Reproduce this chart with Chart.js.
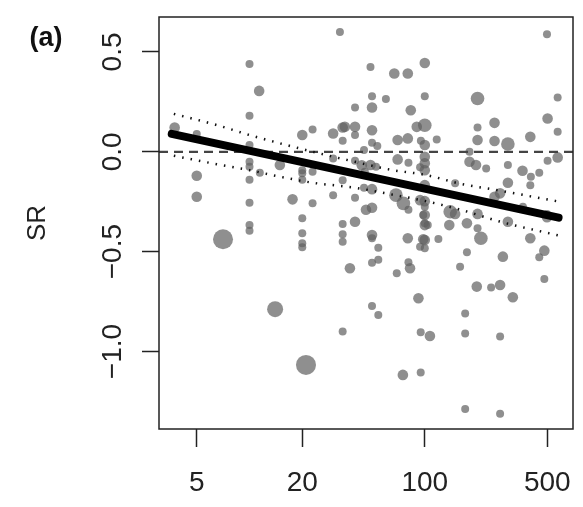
<!DOCTYPE html>
<html>
<head>
<meta charset="utf-8">
<script src="https://cdn.jsdelivr.net/npm/chart.js@4.4.1/dist/chart.umd.min.js"></script>
<style>
  html,body{margin:0;padding:0;background:#fff;overflow:hidden;}
  canvas{display:block;}
</style>
</head>
<body>
<canvas id="sr-chart" width="583" height="507"></canvas>
<script>
// values
var panelLabel = '(a)';
var yTitle = 'SR';
var xTicks = [5, 20, 100, 500];
var yTicks = [-1.0, -0.5, 0.0, 0.5];
var xRange = [3.045, 701];
var yRange = [-1.388, 0.675];

// sites: x (log scale), SR, and relative weight (1..5, shown as dot size)
var siteX = [3.74,5,5,5,7.06,10,10,10,10,10,10,10,10,10,11.35,11.45,14,14.9,17.6,20,
  20,20,20,20,20,20,20,21,22.9,22.9,22.9,30,30,30,32.8,34,34,34,34,34,
  34,34,35,37.4,40,40,40,40,40,40,43.7,45,45,46.2,49,50,50,50,50,49,
  50,50,50,50,50,50,53.6,52.7,54.3,54.3,54.3,60,67,70,70,68.5,69.2,75.5,75,80,
  80,80.7,80.7,80,80.7,83.2,82.4,90,95,94,94,94,92,94.8,94.8,100,100,100,100,100,
  100,100,100,100,100,100,100,100,100,100,98,98,104,107,117,119.6,139.6,138,149,149,
  159,174,174,170,170,170,180,180,196,200,200,200,200,200,198,209,224,239,250,250,
  250,269,269,269,269,279,298,298,298,298,318,361,363,400,403,400,400,450,450,481,
  481,498,502,502,498,498,573,573,573,45.5];
var siteSR = [0.122,0.089,-0.12,-0.225,-0.438,0.44,0.18,0.034,-0.05,-0.075,-0.14,-0.255,-0.367,-0.395,0.305,-0.105,-0.788,-0.066,-0.238,0.084,
  -0.092,-0.108,-0.14,-0.333,-0.408,-0.458,-0.478,-1.067,0.112,-0.1,-0.258,0.092,-0.033,-0.217,0.60,0.122,0.055,-0.142,-0.362,-0.413,
  -0.45,-0.90,0.125,-0.583,0.222,0.125,0.084,-0.045,-0.23,-0.35,-0.067,0.009,-0.18,-0.29,0.425,0.278,0.222,0.108,0.045,-0.066,
  -0.187,-0.28,-0.417,-0.433,-0.555,-0.772,0.029,-0.075,-0.48,-0.54,-0.817,0.264,0.392,0.059,-0.038,-0.217,-0.608,-0.258,-1.117,0.392,
  0.067,-0.055,-0.29,-0.433,-0.553,0.208,-0.583,0.125,0.055,-0.077,-0.242,-0.475,-0.733,-0.903,-1.105,0.445,0.278,0.133,0.034,-0.025,
  -0.057,-0.092,-0.167,-0.247,-0.275,-0.317,-0.358,-0.367,-0.442,-0.483,-0.317,-0.438,-0.367,-0.922,0.062,-0.437,-0.30,-0.367,-0.158,-0.311,
  -0.575,-0.358,-0.503,-0.81,-0.91,-1.288,0.0,-0.05,-0.066,0.267,0.122,0.059,-0.311,-0.383,-0.675,-0.433,-0.083,-0.68,0.145,0.054,
  -0.225,-0.208,-0.667,-0.925,-1.312,-0.525,0.039,-0.066,-0.155,-0.35,-0.728,-0.095,-0.275,0.075,-0.125,-0.167,-0.433,-0.105,-0.528,-0.495,
  -0.637,0.589,0.167,-0.045,-0.311,-0.328,0.272,0.10,-0.028,-0.10];
var siteW = [2,1,2,2,5,1,1,1,1,1,1,1,1,1,2,1,4,2,2,2,
  1,1,1,1,1,1,1,5,1,1,1,2,1,1,1,2,1,1,1,1,
  1,1,2,2,1,2,1,1,1,2,2,1,1,2,1,1,2,2,1,2,
  2,2,2,1,1,1,1,1,1,1,1,1,2,2,2,3,1,3,2,2,
  2,1,1,2,1,2,2,2,1,1,2,1,2,1,1,2,1,3,2,2,
  2,2,2,2,1,2,1,2,2,1,1,2,1,2,1,1,3,2,1,2,
  1,2,1,1,1,1,1,2,2,3,1,2,2,1,2,3,1,1,2,2,
  2,2,2,1,1,2,3,1,2,2,2,2,1,2,1,1,2,1,1,2,
  1,1,2,1,1,2,1,1,2,1];

// fitted line and its confidence band
var fitX = [3.6, 580];
var fitY = [0.09, -0.33];
var ciX = [3.7, 6.5, 10, 15, 23, 40, 66, 100, 160, 270, 587];
var ciUpper = [0.19, 0.134, 0.084, 0.042, 0.0, -0.05, -0.092, -0.115, -0.16, -0.195, -0.25];
var ciLower = [-0.02, -0.062, -0.092, -0.125, -0.155, -0.18, -0.215, -0.246, -0.29, -0.35, -0.42];

var dotRadius = [0, 4, 5.3, 6.8, 8, 10];
var ink = '#222';

Chart.defaults.font.family = '"Liberation Sans", Arial, sans-serif';
Chart.defaults.color = ink;

function pairs(xs, ys)
{
    var out = [];
    for (var i = 0; i < xs.length; i++) out.push({x: xs[i], y: ys[i]});
    return out;
}

function lineSet(data, width, dash, color, order)
{
    return {
        type: 'line',
        data: data,
        showLine: true,
        borderColor: color,
        borderWidth: width,
        borderDash: dash,
        borderCapStyle: dash.length ? 'butt' : 'round',
        pointRadius: 0,
        fill: false,
        cubicInterpolationMode: 'monotone',
        order: order
    };
}

// no extra room for overhanging labels, the frame is placed by layout padding
function noPadding(s)
{
    s.paddingLeft = 0; s.paddingRight = 0; s.paddingTop = 0; s.paddingBottom = 0;
}

var frame = {
    id: 'frame',
    afterDraw: function(chart)
    {
        var ctx = chart.ctx, a = chart.chartArea;
        ctx.save();
        ctx.strokeStyle = ink;
        ctx.lineWidth = 1.5;
        ctx.strokeRect(a.left, a.top, a.right - a.left, a.bottom - a.top);
        ctx.font = 'bold 27px "Liberation Sans", Arial, sans-serif';
        ctx.fillStyle = '#111';
        ctx.textAlign = 'center';
        ctx.textBaseline = 'middle';
        ctx.fillText(panelLabel, 46, 39);
        ctx.restore();
    }
};

var zeroLine = [{x: xRange[0], y: 0}, {x: xRange[1], y: 0}];

var chart = new Chart(document.getElementById('sr-chart').getContext('2d'), {
    type: 'scatter',
    data: {
        datasets: [
            lineSet(pairs(fitX, fitY), 8, [], '#000', 0),
            lineSet(pairs(ciX, ciUpper), 2.5, [1.5, 7], '#111', 1),
            lineSet(pairs(ciX, ciLower), 2.5, [1.5, 7], '#111', 1),
            lineSet(zeroLine, 2.2, [9, 6], '#444', 2),
            {
                data: pairs(siteX, siteSR),
                backgroundColor: 'rgba(95,95,95,0.7)',
                borderWidth: 0,
                pointRadius: function(c) { return dotRadius[siteW[c.dataIndex]]; },
                pointHoverRadius: function(c) { return dotRadius[siteW[c.dataIndex]]; },
                order: 3
            }
        ]
    },
    options: {
        responsive: false,
        animation: false,
        devicePixelRatio: 1,
        layout: { padding: { top: 17, right: 10, left: 0, bottom: 0 } },
        plugins: { legend: { display: false }, tooltip: { enabled: false } },
        scales: {
            x: {
                type: 'logarithmic',
                position: 'bottom',
                min: xRange[0],
                max: xRange[1],
                afterBuildTicks: function(s) { s.ticks = xTicks.map(function(v) { return {value: v}; }); },
                afterFit: function(s) { s.height = 78; noPadding(s); },
                ticks: {
                    autoSkip: false,
                    maxRotation: 0,
                    padding: 19,
                    font: { size: 28 },
                    color: ink,
                    callback: function(v) { return String(v); }
                },
                grid: { drawOnChartArea: false, drawTicks: true, tickLength: 18, tickWidth: 1.5, tickColor: ink },
                border: { display: false }
            },
            y: {
                type: 'linear',
                min: yRange[0],
                max: yRange[1],
                afterBuildTicks: function(s) { s.ticks = yTicks.map(function(v) { return {value: v}; }); },
                afterFit: function(s) { s.width = 159; noPadding(s); },
                ticks: {
                    autoSkip: false,
                    minRotation: 90,
                    maxRotation: 90,
                    crossAlign: 'center',
                    padding: 1,
                    font: { size: 28 },
                    color: ink,
                    callback: function(v) { return (v < 0 ? '\u2212' : '') + Math.abs(v).toFixed(1); }
                },
                title: {
                    display: true,
                    text: yTitle,
                    font: { size: 26 },
                    color: ink,
                    padding: { top: 22, bottom: 0 }
                },
                grid: { drawOnChartArea: false, drawTicks: true, tickLength: 17, tickWidth: 1.5, tickColor: ink },
                border: { display: false }
            }
        }
    },
    plugins: [frame]
});
</script>
</body>
</html>
